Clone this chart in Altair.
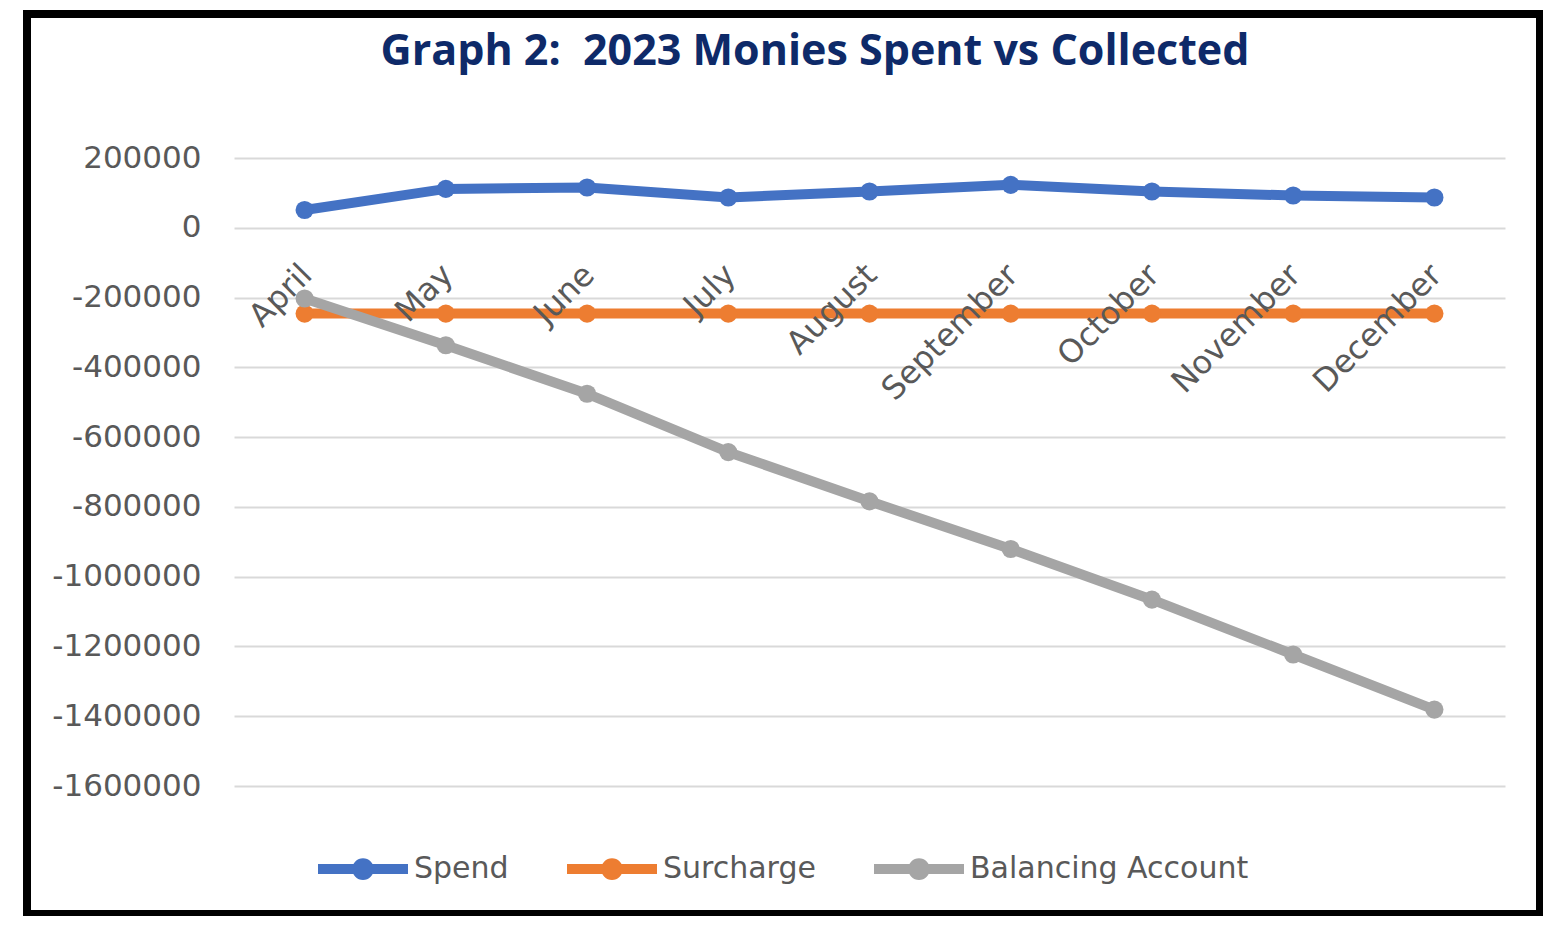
import altair as alt
import pandas as pd

# ---- data ----
MONTHS = ["April", "May", "June", "July", "August", "September", "October", "November", "December"]
SPEND = [51000, 111500, 115500, 86800, 104000, 123000, 104000, 92500, 86800]
SURCHARGE = [-246000, -246000, -246000, -246000, -246000, -246000, -246000, -246000, -246000]
BALANCING = [-202600, -336800, -475600, -643000, -784000, -920600, -1066000, -1223000, -1381000]
SERIES = ["Spend", "Surcharge", "Balancing Account"]
COLORS = ["#4472C4", "#ED7D31", "#A5A5A5"]
Y_TICKS = [200000, 0, -200000, -400000, -600000, -800000, -1000000, -1200000, -1400000, -1600000]
TITLE = ["Graph 2:\u00a0 2023 Monies Spent vs Collected"]

rows = []
for name, vals in zip(SERIES, [SPEND, SURCHARGE, BALANCING]):
    for m, v in zip(MONTHS, vals):
        rows.append({"month": m, "series": name, "value": v})
df = pd.DataFrame(rows)

W, H = 1271, 628
YMIN, YMAX = Y_TICKS[-1], Y_TICKS[0]
zero_px = H * (YMAX - 0) / (YMAX - YMIN)

x_enc = alt.X(
    "month:O",
    sort=MONTHS,
    scale=alt.Scale(type="point", padding=0.5),
    axis=alt.Axis(
        orient="bottom", offset=-(H - zero_px), domain=False, ticks=False, grid=False,
        labelAngle=-45, labelPadding=31, labelOffset=-9, labelFont="DejaVu Sans",
        labelFontSize=32, labelColor="#595959", labelOverlap=False, labelLimit=0,
        title=None, zindex=1,
    ),
)
y_enc = alt.Y(
    "value:Q",
    scale=alt.Scale(domain=[YMIN, YMAX], nice=False, zero=False),
    axis=alt.Axis(
        values=Y_TICKS, labelExpr="'' + datum.value", domain=False, ticks=False,
        gridColor="#D9D9D9", gridWidth=2, labelPadding=33, labelFont="DejaVu Sans",
        labelFontSize=31, labelColor="#595959", labelLimit=0, title=None,
    ),
)
legend_path = ("M-1,0L1,0M-0.13,0A0.13,0.13,0,1,1,0.13,0A0.13,0.13,0,1,1,-0.13,0Z")
color_enc = alt.Color(
    "series:N",
    scale=alt.Scale(domain=SERIES, range=COLORS),
    legend=alt.Legend(
        title=None, orient="none", legendX=79, legendY=661, direction="horizontal",
        symbolType=legend_path, symbolSize=8100, symbolStrokeWidth=10, symbolOpacity=1,
        labelFont="DejaVu Sans", labelFontSize=30, labelColor="#595959",
        labelOffset=1, columnPadding=38, labelLimit=0,
    ),
)

layers = []
frame = alt.Chart(pd.DataFrame({"a": [0]})).mark_rect(
    filled=False, fillOpacity=0, stroke="black", strokeWidth=8
).encode(x=alt.value(-207), x2=alt.value(1306), y=alt.value(-144), y2=alt.value(756))
layers.append(frame)

for name in SERIES:
    layers.append(
        alt.Chart(df).transform_filter(alt.datum.series == name).mark_line(
            strokeWidth=10, point=alt.OverlayMarkDef(filled=True, size=330, opacity=1)
        ).encode(x=x_enc, y=y_enc, color=color_enc)
    )

title = alt.Chart(pd.DataFrame({"t": TITLE})).mark_text(
    font="Open Sans", fontWeight="bold", fontSize=43, color="#0E2A69",
    align="center", baseline="alphabetic",
).encode(x=alt.value(581), y=alt.value(-93), text="t:N")
layers.append(title)

chart = alt.layer(*layers).properties(
    width=W, height=H,
    padding={"left": 226, "top": 150, "right": 38, "bottom": 130},
    autosize=alt.AutoSizeParams(type="none"),
    background="white",
).configure_view(stroke=None)

chart.save("out.html", embed_options={"renderer": "svg", "actions": False})
